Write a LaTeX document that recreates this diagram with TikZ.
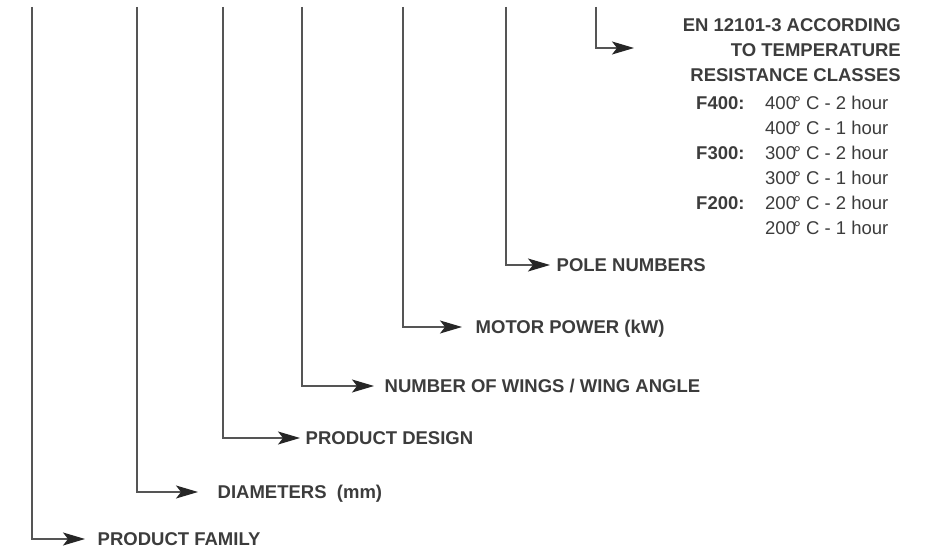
\documentclass[tikz,border=0pt]{standalone}
\usepackage{fontspec}
\setmainfont{Liberation Sans}
\usetikzlibrary{arrows.meta}
\usetikzlibrary{positioning}
\definecolor{labelgrey}{HTML}{3C3C3C}
\definecolor{linegrey}{HTML}{555555}
\definecolor{tipgrey}{HTML}{262626}
\tikzset{>={Stealth[length=22pt, width=13pt, inset=5pt, color=tipgrey]}}
\newcommand{\dg}{\kern-2.5pt°\ }
\tikzset{
  lead/.style={->, draw=linegrey, line width=1.1pt},
  code/.style={labelgrey, font=\fontsize{18.5}{25}\selectfont\bfseries, anchor=west, inner sep=0pt, text height=13pt, text depth=0pt},
  head/.style={labelgrey, font=\fontsize{18.5}{25}\selectfont\bfseries, anchor=base east, inner sep=0pt},
  class/.style={labelgrey, font=\fontsize{18.5}{25}\selectfont\bfseries, anchor=base west, inner sep=0pt},
  temp/.style={labelgrey, font=\fontsize{18.5}{25}\selectfont, anchor=base west, inner sep=0pt}
}

\begin{document}
\begin{tikzpicture}[x=1pt, y=-1pt]
        \useasboundingbox (0,0) rectangle (938,553);
        % Tops of the lines
        \coordinate (t1) at (32,7);
        \coordinate (t2) at (137,7);
        \coordinate (t3) at (223,7);
        \coordinate (t4) at (302,7);
        \coordinate (t5) at (403,7);
        \coordinate (t6) at (506,7);
        \coordinate (t7) at (596,7);
        \coordinate (e7) at (634,48);

        % Labels
        \node[code] (family) at (97.5,539) {PRODUCT FAMILY};
        \node[code] (diam) at (217.5,492) {DIAMETERS\ \ (mm)};
        \node[code] (design) at (305.5,438) {PRODUCT DESIGN};
        \node[code] (wings) at (384.5,386) {NUMBER OF WINGS / WING ANGLE};
        \node[code] (power) at (475.5,327) {MOTOR POWER (kW)};
        \node[code] (poles) at (556.5,265) {POLE NUMBERS};

        % Temperature classes
        \node[head] (en1) at (901,31.5) {EN 12101-3 ACCORDING};
        \node[head] (en2) at (901,56.5) {TO TEMPERATURE};
        \node[head] (en3) at (901,81.5) {RESISTANCE CLASSES};
        \node[class] (f400) at (696,110) {F400:};
        \node[temp] (f400a) at (765,110) {400\dg C - 2 hour};
        \node[temp] (f400b) at (765,135) {400\dg C - 1 hour};
        \node[class] (f300) at (696,160) {F300:};
        \node[temp] (f300a) at (765,160) {300\dg C - 2 hour};
        \node[temp] (f300b) at (765,185) {300\dg C - 1 hour};
        \node[class] (f200) at (696,210) {F200:};
        \node[temp] (f200a) at (765,210) {200\dg C - 2 hour};
        \node[temp] (f200b) at (765,235) {200\dg C - 1 hour};

        % Leads
        \draw[lead] (t1) |- ([xshift=-12.5pt]family.west);
        \draw[lead] (t2) |- ([xshift=-19.5pt]diam.west);
        \draw[lead] (t3) |- ([xshift=-5.5pt]design.west);
        \draw[lead] (t4) |- ([xshift=-10.5pt]wings.west);
        \draw[lead] (t5) |- ([xshift=-13.5pt]power.west);
        \draw[lead] (t6) |- ([xshift=-6.5pt]poles.west);
        \draw[lead] (t7) |- (e7);
      \end{tikzpicture}
\end{document}
